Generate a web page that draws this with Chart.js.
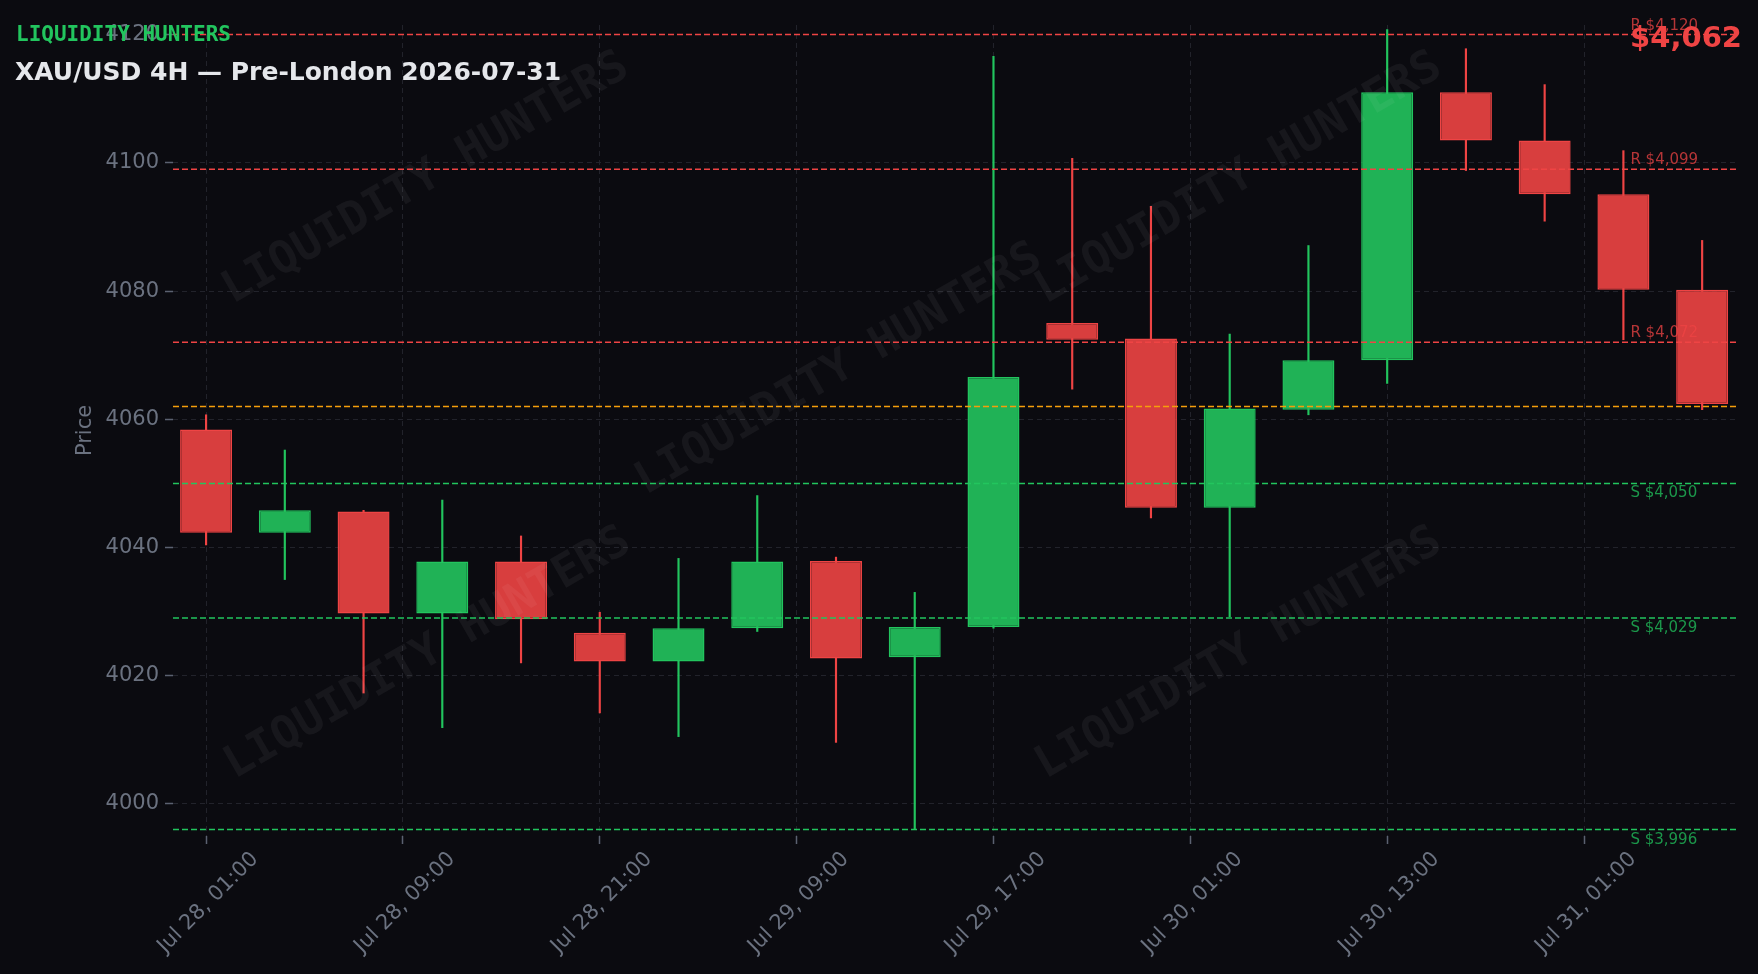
<!DOCTYPE html>
<html>
<head>
<meta charset="utf-8">
<title>XAU/USD 4H</title>
<script src="https://cdn.jsdelivr.net/npm/chart.js@4/dist/chart.umd.min.js"></script>
<style>
	html, body { margin: 0; padding: 0; background: #0b0b10; }
	#wrap { position: relative; width: 1758px; height: 974px; overflow: hidden; }
	canvas { display: block; }
	.txt { position: absolute; white-space: nowrap; line-height: 1; }
	#brand { left: 16px; top: 22px; font: bold 21px "DejaVu Sans Mono", monospace; color: #22c55e; }
	#title { left: 15px; top: 57px; font: bold 25px "DejaVu Sans", sans-serif; color: #e5e7eb; }
	#price { right: 16px; top: 20px; font: bold 29px "DejaVu Sans", sans-serif; color: #ef4444; }
</style>
</head>
<body>
<div id="wrap">
	<canvas id="candles" width="1758" height="974"></canvas>
	<div class="txt" id="brand">LIQUIDITY HUNTERS</div>
	<div class="txt" id="title">XAU/USD 4H — Pre-London 2026-07-31</div>
	<div class="txt" id="price">$4,062</div>
</div>
<script>
// Candle data (one entry per 4H bar)
const candleIdx = [0, 1, 2, 3, 4, 5, 6, 7, 8, 9, 10, 11, 12, 13, 14, 15, 16, 17, 18, 19];
const opens  = [4058.4, 4042.3, 4045.6, 4029.7, 4037.8, 4026.7, 4022.2, 4027.4, 4037.9, 4022.9,
                4027.6, 4075.0, 4072.6, 4046.2, 4061.5, 4069.2, 4111.0, 4103.5, 4095.1, 4080.2];
const highs  = [4060.7, 4055.2, 4045.8, 4047.4, 4041.8, 4029.9, 4038.3, 4048.1, 4038.5, 4033.0,
                4116.6, 4100.7, 4093.2, 4073.3, 4087.1, 4120.8, 4117.8, 4112.2, 4101.9, 4087.9];
const lows   = [4040.4, 4035.0, 4017.3, 4011.9, 4022.0, 4014.2, 4010.5, 4026.9, 4009.6, 3996.0,
                4027.4, 4064.7, 4044.6, 4029.2, 4060.7, 4065.6, 4098.8, 4090.9, 4072.4, 4061.5];
const closes = [4042.3, 4045.8, 4029.7, 4037.8, 4028.8, 4022.2, 4027.4, 4037.8, 4022.7, 4027.6,
                4066.6, 4072.4, 4046.2, 4061.7, 4069.2, 4111.0, 4103.5, 4095.1, 4080.2, 4062.4];

// Tick positions / labels on the x axis
const xTickPos = [0, 2.5, 5, 7.5, 10, 12.5, 15, 17.5];
const xTickLabels = ["Jul 28, 01:00", "Jul 28, 09:00", "Jul 28, 21:00", "Jul 29, 09:00",
                     "Jul 29, 17:00", "Jul 30, 01:00", "Jul 30, 13:00", "Jul 31, 01:00"];

// Support / resistance levels and current price
const levelPrices = [4120, 4099, 4072, 4050, 4029, 3996];
const levelKinds = ["R", "R", "R", "S", "S", "S"];
const currentPrice = 4062;

const UP = "#22c55e";
const DOWN = "#ef4444";
const UP_FILL = "#20b256";
const DOWN_FILL = "#d83e3e";
const isUp = closes.map((c, i) => c >= opens[i]);

/**
 * Faint rotated watermark text inside the plot area
 */
const watermark = {
	id: "watermark",
	afterDatasetsDraw(chart) {
		const { ctx, chartArea } = chart;
		const spots = [[426, 179], [1239, 179], [839, 370], [428, 654], [1239, 654]];
		ctx.save();
		ctx.beginPath();
		ctx.rect(chartArea.left, chartArea.top, chartArea.right - chartArea.left, chartArea.bottom - chartArea.top);
		ctx.clip();
		ctx.font = "bold 45px 'DejaVu Sans Mono', monospace";
		ctx.fillStyle = "rgba(255,255,255,0.05)";
		ctx.textAlign = "center";
		ctx.textBaseline = "middle";
		spots.forEach(([x, y]) => {
			ctx.save();
			ctx.translate(x, y);
			ctx.rotate(-Math.PI / 6);
			ctx.fillText("LIQUIDITY HUNTERS", 0, 0);
			ctx.restore();
		});
		ctx.restore();
	},
};

/**
 * Dashed horizontal S/R levels, current price line and level captions
 */
const levels = {
	id: "levels",
	afterDatasetsDraw(chart) {
		const { ctx, chartArea, scales } = chart;
		const drawLine = (price, color) => {
			const y = scales.y.getPixelForValue(price);
			ctx.beginPath();
			ctx.moveTo(chartArea.left, y);
			ctx.lineTo(chartArea.right, y);
			ctx.strokeStyle = color;
			ctx.stroke();
			return y;
		};
		ctx.save();
		ctx.lineWidth = 1.5;
		ctx.setLineDash([6, 3]);
		drawLine(currentPrice, "#f59e0b");
		const labelX = scales.x.getPixelForValue(18) + 7;
		ctx.font = "15px 'DejaVu Sans', sans-serif";
		ctx.textAlign = "left";
		ctx.textBaseline = "alphabetic";
		levelPrices.forEach((p, i) => {
			const res = levelKinds[i] === "R";
			const y = drawLine(p, res ? DOWN : UP);
			ctx.fillStyle = res ? "rgba(239,68,68,0.75)" : "rgba(34,197,94,0.75)";
			const text = levelKinds[i] + " $" + p.toLocaleString("en-US");
			ctx.fillText(text, labelX, res ? y - 5 : y + 14);
		});
		ctx.restore();
	},
};

function drawChart() {
	const el = document.getElementById("candles");
	if (!el) return;

	const gridOpts = {
		color: "#22232b",
		lineWidth: 1,
		offset: false,
		tickColor: "#5b6170",
		tickLength: 8,
		tickWidth: 1.5,
	};

	new Chart(el, {
		type: "bar",
		data: {
			datasets: [
				{
					label: "body",
					data: candleIdx.map((i) => ({ x: i, y: [opens[i], closes[i]] })),
					backgroundColor: isUp.map((u) => (u ? UP_FILL : DOWN_FILL)),
					borderColor: isUp.map((u) => (u ? UP : DOWN)),
					borderWidth: 1.5,
					borderSkipped: false,
					categoryPercentage: 1,
					barPercentage: 0.66,
					grouped: false,
				},
				{
					label: "wick",
					data: candleIdx.map((i) => ({ x: i, y: [lows[i], highs[i]] })),
					backgroundColor: isUp.map((u) => (u ? UP : DOWN)),
					barThickness: 1.5,
					grouped: false,
				},
			],
		},
		options: {
			responsive: false,
			animation: false,
			layout: { padding: { top: 25, right: 22, left: 0, bottom: 0 } },
			plugins: { legend: { display: false }, tooltip: { enabled: false } },
			scales: {
				x: {
					type: "linear",
					min: -0.42,
					max: 19.43,
					offset: false,
					afterBuildTicks: (s) => {
						s.ticks = xTickPos.map((v) => ({ value: v }));
					},
					afterFit: (s) => {
						s.height = 138;
					},
					ticks: {
						autoSkip: false,
						minRotation: 45,
						maxRotation: 45,
						color: "#6b7280",
						font: { size: 21, family: "'DejaVu Sans', sans-serif" },
						padding: 3,
						labelOffset: 49,
						callback: (v, i) => xTickLabels[i],
					},
					grid: gridOpts,
					border: { display: false, dash: [5, 4] },
				},
				y: {
					min: 3995,
					max: 4121.5,
					afterFit: (s) => {
						s.width = 173;
					},
					ticks: {
						stepSize: 20,
						includeBounds: false,
						color: "#6b7280",
						font: { size: 21, family: "'DejaVu Sans', sans-serif" },
						padding: 6,
						callback: (v) => String(v),
					},
					title: {
						display: true,
						text: "Price",
						color: "#6b7280",
						font: { size: 21, family: "'DejaVu Sans', sans-serif" },
						padding: { top: 73, bottom: 0 },
					},
					grid: gridOpts,
					border: { display: false, dash: [5, 4] },
				},
			},
		},
		plugins: [watermark, levels],
	});
}

drawChart();
</script>
</body>
</html>
